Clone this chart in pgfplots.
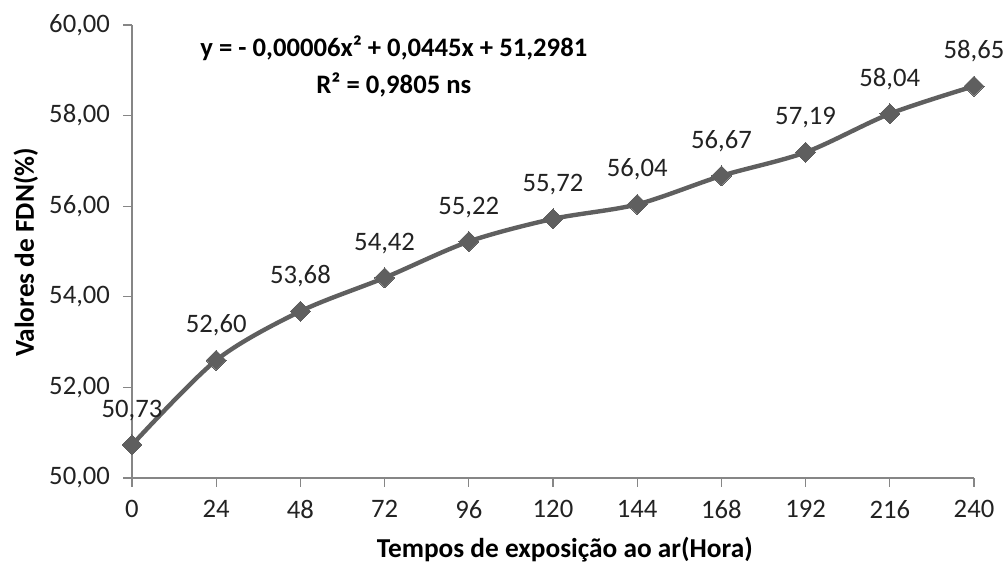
\documentclass[border=0pt]{standalone}
\usepackage{pgfplots}
\pgfplotsset{compat=1.18}
\usepackage{fontspec}
\setmainfont{Carlito}
\definecolor{linegray}{HTML}{5F5F5F}
\definecolor{axgray}{HTML}{868686}
\definecolor{txt}{HTML}{222222}
\begin{document}
\begin{tikzpicture}
\begin{axis}[
  scale only axis,
  width=631.5pt, height=339.75pt,
  xmin=0, xmax=240, ymin=50, ymax=60,
  clip=false,
  axis x line=bottom, axis y line=left,
  axis line style={-, draw=axgray, line width=0.9pt},
  tick style={draw=axgray, line width=0.9pt},
  tick align=outside,
  major tick length=6.5pt,
  xtick={0,24,...,240},
  ytick={50,52,...,60},
  /pgf/number format/assume math mode=true,
  ticklabel style={font=\fontsize{20}{24}\selectfont, text=txt},
  yticklabel style={/pgf/number format/fixed, /pgf/number format/fixed zerofill, /pgf/number format/precision=2, /pgf/number format/use comma, xshift=-6.5pt},
  xticklabel style={yshift=-6.5pt},
  xlabel={Tempos de exposição ao ar(Hora)},
  ylabel={Valores de FDN(\%)},
  xlabel style={font=\bfseries\fontsize{20.5}{24}\selectfont, at={(rel axis cs:0.514,-0.158)}, anchor=center},
  ylabel style={font=\bfseries\fontsize{20.5}{24}\selectfont, at={(rel axis cs:-0.126,0.498)}, anchor=center, rotate=0},
  nodes near coords={\pgfmathprintnumber[fixed, fixed zerofill, precision=2, use comma, assume math mode=true]{\pgfplotspointmeta}},
  every node near coord/.append style={font=\fontsize{20}{24}\selectfont, text=txt, inner sep=0pt, yshift=18pt},
]
\addplot[color=linegray, line width=3.3pt, smooth, tension=0.5,
  mark=square*, mark size=5.3pt, mark options={rotate=45, fill=linegray, draw=linegray, line width=0pt}]
  coordinates {
  (0,50.73) (24,52.60) (48,53.68) (72,54.42) (96,55.22) (120,55.72)
  (144,56.04) (168,56.67) (192,57.19) (216,58.04) (240,58.65)
  };
\node[font=\bfseries\fontsize{20}{27.5}\selectfont, align=center, text=black] at (rel axis cs:0.311,0.909)
  {y = - 0,00006x² + 0,0445x + 51,2981\\R² = 0,9805 ns};
\end{axis}
\pgfresetboundingbox
\path[use as bounding box] (-99pt,-64.5pt) rectangle (655.5pt,358.5pt);
\end{tikzpicture}
\end{document}
